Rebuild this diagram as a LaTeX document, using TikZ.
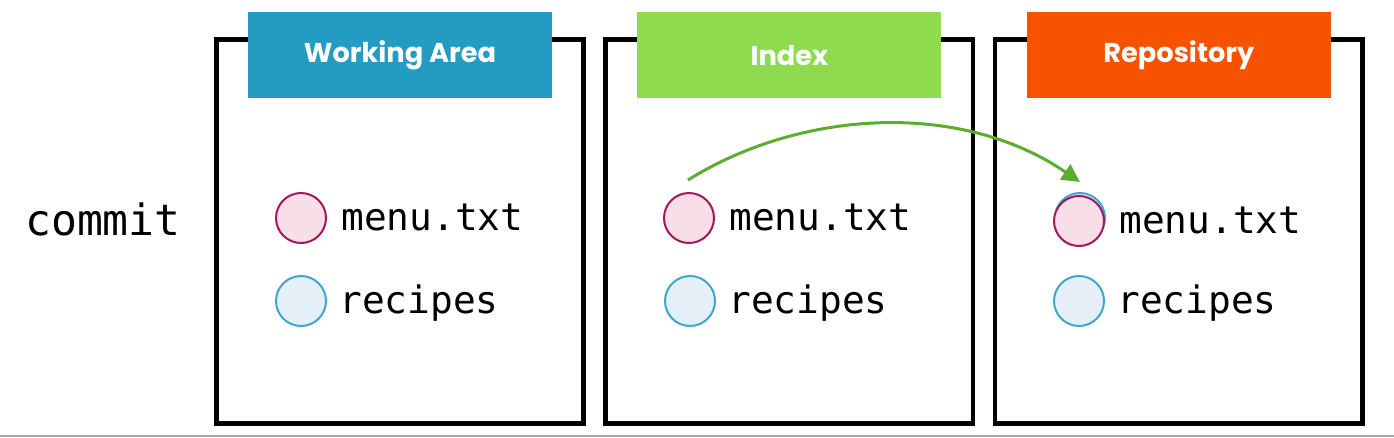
\documentclass[tikz,border=0pt]{standalone}
\usepackage{fontspec}
\setmonofont{DejaVu Sans Mono}
\newfontfamily\headfont{Poppins}
\usetikzlibrary{positioning,arrows.meta}

\definecolor{wacolor}{HTML}{239BC3}
\definecolor{ixcolor}{HTML}{8FDB4F}
\definecolor{repocolor}{HTML}{F75200}
\definecolor{arrowgreen}{HTML}{5AAD2E}
\definecolor{pinkfill}{HTML}{F7DEE7}
\definecolor{pinkline}{HTML}{A3175C}
\definecolor{bluefill}{HTML}{E5EFF7}
\definecolor{blueline}{HTML}{3FA7C9}

\begin{document}
\begin{tikzpicture}[x=0.02cm, y=-0.02cm, node distance=7.79cm, auto]
  \tikzstyle{area} = [rectangle, draw, line width=0.09cm,
    minimum width=7.35cm, minimum height=7.69cm]
  \tikzstyle{header} = [rectangle, text=white, minimum width=6.08cm,
    minimum height=1.72cm, font=\headfont\bfseries\fontsize{15.5}{18}\selectfont]
  \tikzstyle{menufile} = [circle, draw=pinkline, fill=pinkfill,
    line width=0.04cm, minimum size=1.0cm]
  \tikzstyle{recfile} = [circle, draw=blueline, fill=bluefill,
    line width=0.04cm, minimum size=1.0cm]
  \tikzstyle{fname} = [inner sep=0pt, font=\ttfamily\fontsize{21.5}{24}\selectfont]
  \tikzstyle{line} = [draw=arrowgreen, line width=0.06cm,
    -{Triangle[length=0.36cm, width=0.36cm]}]

  \useasboundingbox (0,0) rectangle (1394,437);

  % Place nodes
  \node [inner sep=0pt, anchor=base, font=\ttfamily\fontsize{24.5}{28}\selectfont]
    (commit) at (103,235) {commit};

  \node [area] (wa) at (400,231.5) {};
  \node [area, right of=wa] (ix) {};
  \node [area, right of=ix] (repo) {};

  \node [header, fill=wacolor, above of=wa, node distance=3.53cm] (wahead) {Working Area};
  \node [header, fill=ixcolor, above of=ix, node distance=3.53cm] (ixhead) {Index};
  \node [header, fill=repocolor, above of=repo, node distance=3.53cm] (repohead) {Repository};

  \node [menufile] (wamenu) at (301,218) {};
  \node [recfile] (warec) at (301,301) {};
  \node [menufile] (ixmenu) at (689,218) {};
  \node [recfile] (ixrec) at (690,301) {};
  \node [recfile] (repoold) at (1080,218) {};
  \node [menufile] (repomenu) at (1079,221) {};
  \node [recfile] (reporec) at (1079,301) {};

  \tikzstyle{label} = [fname, anchor=base west, yshift=-0.24cm]
  \node [label, right=0.28cm of wamenu, anchor=base west] (wamenutxt) {menu.txt};
  \node [label, right=0.24cm of warec, anchor=base west] (warectxt) {recipes};
  \node [label, right=0.28cm of ixmenu, anchor=base west] (ixmenutxt) {menu.txt};
  \node [label, right=0.24cm of ixrec, anchor=base west] (ixrectxt) {recipes};
  \node [label, right=0.28cm of repomenu, anchor=base west] (repomenutxt) {menu.txt};
  \node [label, right=0.24cm of reporec, anchor=base west] (reporectxt) {recipes};

  \coordinate (start) at (688,180);
  \coordinate (land) at (1080,182);

  % Draw edges
  \path [line] (start) .. controls (800,110) and (960,100) .. (land);

  \draw [gray!70, line width=0.04cm] (0,435.5) -- (1394,435.5);

\end{tikzpicture}
\end{document}
